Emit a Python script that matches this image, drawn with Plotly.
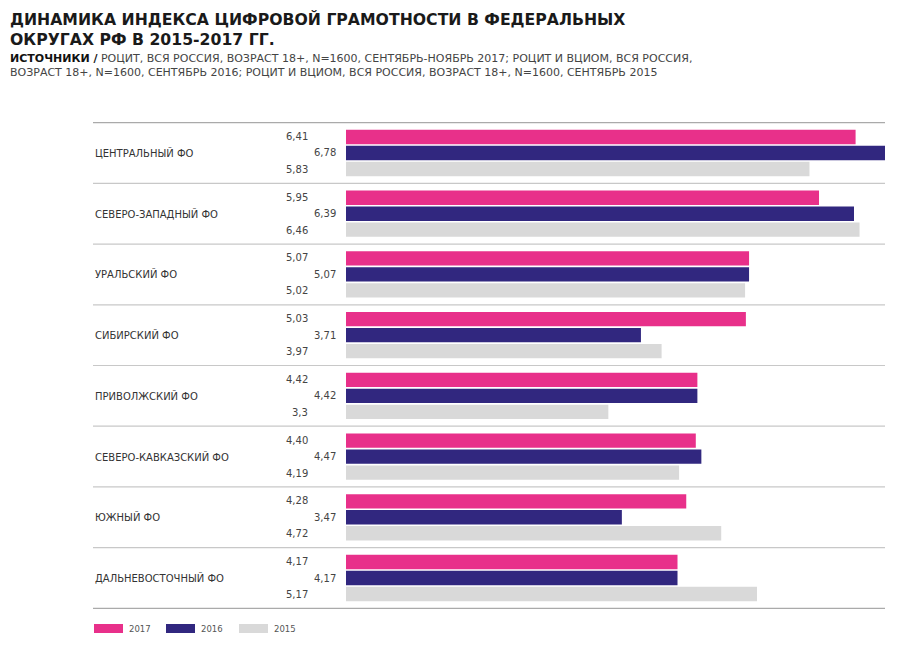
import plotly.graph_objects as go

regions = ["ЦЕНТРАЛЬНЫЙ ФО", "СЕВЕРО-ЗАПАДНЫЙ ФО", "УРАЛЬСКИЙ ФО", "СИБИРСКИЙ ФО",
           "ПРИВОЛЖСКИЙ ФО", "СЕВЕРО-КАВКАЗСКИЙ ФО", "ЮЖНЫЙ ФО", "ДАЛЬНЕВОСТОЧНЫЙ ФО"]
labels_2017 = ["6,41", "5,95", "5,07", "5,03", "4,42", "4,40", "4,28", "4,17"]
labels_2016 = ["6,78", "6,39", "5,07", "3,71", "4,42", "4,47", "3,47", "4,17"]
labels_2015 = ["5,83", "6,46", "5,02", "3,97", "3,3", "4,19", "4,72", "5,17"]
years = ["2017", "2016", "2015"]

def to_num(lst):
    return [float(s.replace(",", ".")) for s in lst]

values = {"2017": to_num(labels_2017), "2016": to_num(labels_2016), "2015": to_num(labels_2015)}
labels = {"2017": labels_2017, "2016": labels_2016, "2015": labels_2015}
colors = {"2017": "#E8308A", "2016": "#31277F", "2015": "#D9D9D9"}

# page offset (browser body margin) compensation
O = 8
W, H = 911 - O, 654 - O
L, R, T, B = 346 - O, 885 - O, 122 - O, 609 - O
pw, ph = R - L, B - T
def px(x):
    # x given in screen pixels
    return (x - O - L) / pw
def py(y):
    return (B - (y - O)) / ph

FONT = "DejaVu Sans"
fig = go.Figure()
for yr in years:
    fig.add_trace(go.Bar(y=regions, x=values[yr], orientation="h", name=yr,
                         marker=dict(color=colors[yr], line=dict(width=0)),
                         showlegend=False))

annotations = []
shapes = []
# value labels
shift = {"2017": 16.5, "2016": 0, "2015": -16.5}
xpos = {"2017": px(310), "2016": px(338), "2015": px(310)}
for yr in years:
    for reg, lab in zip(regions, labels[yr]):
        annotations.append(dict(x=xpos[yr], xref="paper", y=reg, yref="y", yshift=shift[yr],
                                text=lab, showarrow=False, xanchor="right", yanchor="middle",
                                font=dict(family=FONT, size=10, color="#444")))
# region labels
for reg in regions:
    annotations.append(dict(x=px(93), xref="paper", y=reg, yref="y", text=reg,
                            showarrow=False, xanchor="left", yanchor="middle",
                            font=dict(family=FONT, size=10, color="#333")))
# separators
n = len(regions)
for i in range(n + 1):
    col = "#aaaaaa" if i in (0, n) else "#c8c8c8"
    shapes.append(dict(type="line", xref="paper", yref="y", x0=px(93), x1=1,
                       y0=i - 0.5, y1=i - 0.5, line=dict(color=col, width=1.2)))
# legend
leg_x = [94, 166, 239]
for yr, lx in zip(years, leg_x):
    shapes.append(dict(type="rect", xref="paper", yref="paper", x0=px(lx), x1=px(lx + 29),
                       y0=py(633), y1=py(624), fillcolor=colors[yr], line=dict(width=0)))
    annotations.append(dict(x=px(lx + 33), xref="paper", y=py(628.5), yref="paper", text=yr,
                            showarrow=False, xanchor="left", yanchor="middle",
                            font=dict(family=FONT, size=8.5, color="#555")))
# subtitle
annotations.append(dict(x=px(8), xref="paper", y=py(50), yref="paper", yanchor="top",
                        xanchor="left", align="left", showarrow=False,
                        text="<b>ИСТОЧНИКИ /</b> <span style='color:#444'>РОЦИТ, ВСЯ РОССИЯ, ВОЗРАСТ 18+, N=1600, СЕНТЯБРЬ-НОЯБРЬ 2017; РОЦИТ И ВЦИОМ, ВСЯ РОССИЯ,</span><br>"
                             "<span style='color:#444'>ВОЗРАСТ 18+, N=1600, СЕНТЯБРЬ 2016; РОЦИТ И ВЦИОМ, ВСЯ РОССИЯ, ВОЗРАСТ 18+, N=1600, СЕНТЯБРЬ 2015</span>",
                        font=dict(family=FONT, size=11, color="#111")))
# title
annotations.append(dict(x=px(8), xref="paper", y=py(8), yref="paper", yanchor="top",
                        xanchor="left", align="left", showarrow=False,
                        text="<b>ДИНАМИКА ИНДЕКСА ЦИФРОВОЙ ГРАМОТНОСТИ В ФЕДЕРАЛЬНЫХ<br>ОКРУГАХ РФ В 2015-2017 ГГ.</b>",
                        font=dict(family=FONT, size=15.7, color="#1a1a1a")))

fig.update_layout(
    width=W, height=H,
    margin=dict(l=L, r=W - R, t=T, b=H - B),
    paper_bgcolor="white", plot_bgcolor="white",
    barmode="group", bargap=0.21, bargroupgap=0.1,
    xaxis=dict(range=[0, 6.78], visible=False, fixedrange=True),
    yaxis=dict(autorange="reversed", visible=False, fixedrange=True),
    annotations=annotations, shapes=shapes,
)
fig.write_html("out.html")
